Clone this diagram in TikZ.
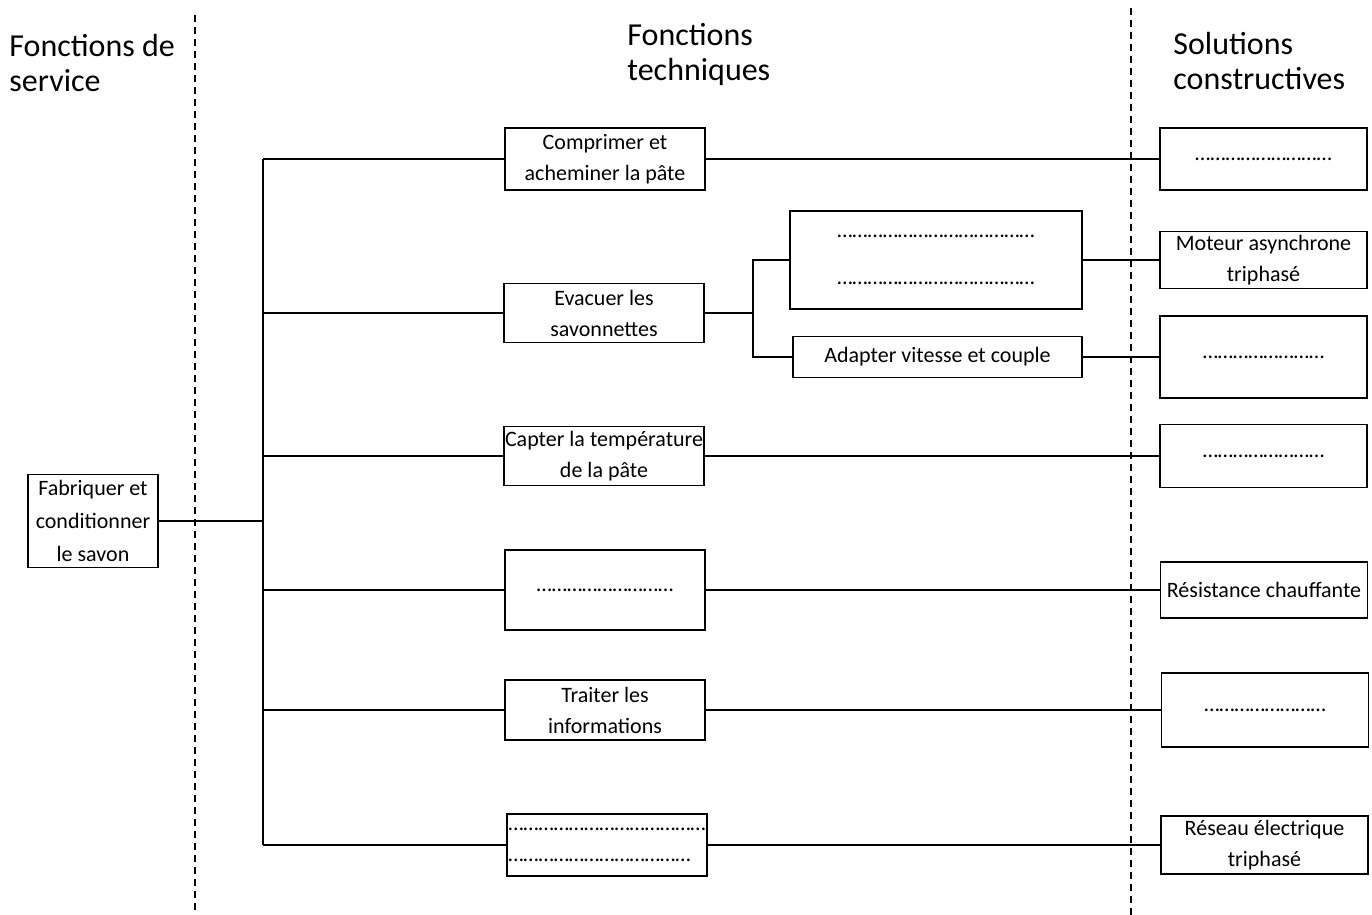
\documentclass[tikz,border=0pt]{standalone}
\usepackage{fontspec}
\setmainfont{Carlito}
\newcommand{\pointilles}[1]{\foreach \i in {1,...,#1}{…}}
\begin{document}
\begin{tikzpicture}[
    x=0.5pt, y=-0.5pt,
    every node/.style={font=\fontsize{11}{15.5}\selectfont},
    fbox/.style={rectangle, draw, line width=0.9pt, align=center, inner sep=0pt},
    ft/.style={fbox, minimum width=100pt},
    sc/.style={fbox, minimum width=103.5pt},
    titre/.style={font=\fontsize{16}{17.5}\selectfont, align=left, anchor=west, inner sep=0pt},
    lien/.style={draw, line width=0.9pt},
    limite/.style={draw, line width=0.8pt, dash pattern=on 3.5pt off 2.5pt}
]
\useasboundingbox (0,0) rectangle (1372,915);

% limites des colonnes
\draw[limite] (195,15) -- (195,915);
\draw[limite] (1131,8) -- (1131,915);

\node[titre] (hfs) at (9,63) {Fonctions de\\service};
\node[titre] (hft) at (627,55) {Fonctions\\techniques};
\node[titre] (hsc) at (1173,61) {Solutions\\constructives};

% fonction de service
\node[fbox, minimum width=65pt, minimum height=46.5pt, font=\fontsize{11}{16.5}\selectfont] (fab) at (93,521) {Fabriquer et\\conditionner\\le savon};

% fonctions techniques
\node[ft, minimum height=31pt] (comp) at (605,159) {Comprimer et\\acheminer la pâte};
\node[ft, minimum height=29.5pt] (evac) at (604,313) {Evacuer les\\savonnettes};
\node[ft, minimum height=29.5pt] (capt) at (604,456) {Capter la température\\de la pâte};
\node[ft, minimum height=40pt] (chauf) at (605,590) {\pointilles{9}};
\node[ft, minimum height=30pt] (trait) at (605,710) {Traiter les\\informations};
\node[ft, minimum height=31pt, align=left] (alim) at (607,845) {\pointilles{13}\\\pointilles{12}};
\node[fbox, minimum width=146pt, minimum height=49pt] (conv) at (936,260) {\pointilles{13}\\[8pt]\pointilles{13}};
\node[fbox, minimum width=144.5pt, minimum height=20.5pt] (adapt) at (937.5,357) {Adapter vitesse et couple};

% solutions constructives
\node[sc, minimum height=31pt] (s1) at (1263.5,159) {\pointilles{9}};
\node[sc, minimum height=28.5pt] (mot) at (1263.5,260) {Moteur asynchrone\\triphasé};
\node[sc, minimum height=41pt] (s3) at (1263.5,357) {\pointilles{8}};
\node[sc, minimum height=31.5pt] (s4) at (1263.5,456) {\pointilles{8}};
\node[sc, minimum height=28pt] (res) at (1264,590) {Résistance chauffante};
\node[sc, minimum height=37pt] (s6) at (1265,710) {\pointilles{8}};
\node[sc, minimum height=29pt] (reseau) at (1264.5,845) {Réseau électrique\\triphasé};

% liaisons
\coordinate (tronc) at (263,521);
\coordinate (dep) at (753,313);
\draw[lien] (fab.east) -- (tronc);
\draw[lien] (comp.west -| tronc) -- (alim.west -| tronc);
\foreach \n in {comp,evac,capt,chauf,trait,alim}
    \draw[lien] (\n.west -| tronc) -- (\n.west);
\draw[lien] (evac.east) -- (dep);
\draw[lien] (conv.west) -| (dep) |- (adapt.west);
\draw[lien] (comp.east) -- (s1.west);
\draw[lien] (conv.east) -- (mot.west);
\draw[lien] (adapt.east) -- (s3.west);
\draw[lien] (capt.east) -- (s4.west);
\draw[lien] (chauf.east) -- (res.west);
\draw[lien] (trait.east) -- (s6.west);
\draw[lien] (alim.east) -- (reseau.west);
\end{tikzpicture}
\end{document}
